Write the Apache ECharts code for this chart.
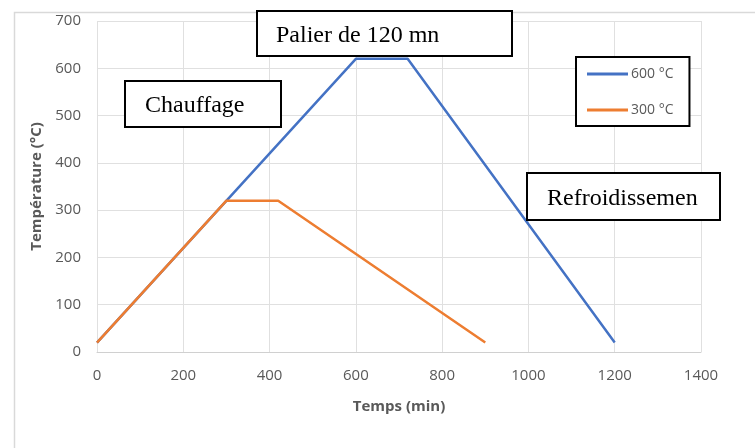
<!DOCTYPE html>
<html><head><meta charset="utf-8">
<script src="https://cdn.jsdelivr.net/npm/echarts@6/dist/echarts.min.js"></script>
<style>html,body{margin:0;padding:0;background:#fff}#c{width:755px;height:448px}</style>
</head><body><div id="c"></div>
<script>
const seriesNames = ['600 °C', '300 °C'];
const time600 = [0, 600, 720, 1200];
const temp600 = [20, 620, 620, 20];
const time300 = [0, 300, 420, 900];
const temp300 = [20, 320, 320, 20];
const xTicks = [0, 200, 400, 600, 800, 1000, 1200, 1400];
const yTicks = [0, 100, 200, 300, 400, 500, 600, 700];
const annotations = ['Palier de 120 mn', 'Chauffage', 'Refroidissemen'];

const chart = echarts.init(document.getElementById('c'), null, {renderer: 'canvas'});
const lbl = {color: '#595959', fontFamily: 'Open Sans', fontSize: 15, formatter: v => String(v)};
function boxText(x, y, w, h, text, tx, ty) {
  return {
    type: 'group', left: x, top: y, z: 100,
    children: [
      {type: 'rect', z: 100, shape: {x: 0, y: 0, width: w, height: h}, style: {fill: '#fff', stroke: '#000', lineWidth: 2}},
      {type: 'text', z: 101, x: tx, y: ty, style: {text: text, fill: '#000', font: '24px "Liberation Serif"', textVerticalAlign: 'middle'}}
    ]
  };
}
chart.setOption({
  animation: false,
  grid: {left: 97, right: 54, top: 21, bottom: 96},
  xAxis: {
    type: 'value', min: xTicks[0], max: xTicks[xTicks.length - 1], interval: 200,
    axisLine: {show: true, lineStyle: {color: '#d0d0d0', width: 1}},
    axisTick: {show: false},
    axisLabel: Object.assign({margin: 16}, lbl),
    splitLine: {show: true, lineStyle: {color: '#e0e0e0'}},
    name: 'Temps (min)', nameLocation: 'middle', nameGap: 47,
    nameTextStyle: {color: '#595959', fontFamily: 'Open Sans', fontSize: 15, fontWeight: 'bold'}
  },
  yAxis: {
    type: 'value', min: yTicks[0], max: yTicks[yTicks.length - 1], interval: 100,
    axisLine: {show: false}, axisTick: {show: false},
    axisLabel: Object.assign({margin: 16}, lbl),
    splitLine: {show: true, lineStyle: {color: '#e0e0e0'}},
    name: 'Température (°C)', nameLocation: 'middle', nameGap: 53,
    nameTextStyle: {color: '#595959', fontFamily: 'Open Sans', fontSize: 15, fontWeight: 'bold'}
  },
  legend: {
    data: seriesNames, orient: 'vertical', left: 576, top: 57,
    icon: 'rect', itemWidth: 41, itemHeight: 3, itemGap: 18,
    padding: [8, 16, 7, 11], borderColor: '#000', borderWidth: 2, backgroundColor: '#fff',
    textStyle: {color: '#595959', fontFamily: 'Open Sans', fontSize: 14, lineHeight: 18, padding: [0, 0, 0, -2]}
  },
  series: [
    {name: seriesNames[0], type: 'line', data: time600.map((t, i) => [t, temp600[i]]), showSymbol: false, lineStyle: {color: '#4472c4', width: 2.5}, itemStyle: {color: '#4472c4'}},
    {name: seriesNames[1], type: 'line', data: time300.map((t, i) => [t, temp300[i]]), showSymbol: false, lineStyle: {color: '#ed7d31', width: 2.5}, itemStyle: {color: '#ed7d31'}}
  ],
  graphic: [
    {type: 'rect', left: 12, top: 10, z: -10, shape: {x: 0, y: 0, width: 760, height: 460}, style: {fill: 'none', stroke: '#d9d9d9', lineWidth: 1.5}},
    boxText(256, 10, 255, 45, annotations[0], 19, 25),
    boxText(124, 80, 156, 46, annotations[1], 20, 25),
    boxText(526, 172, 193, 47, annotations[2], 20, 26)
  ]
});
</script></body></html>
